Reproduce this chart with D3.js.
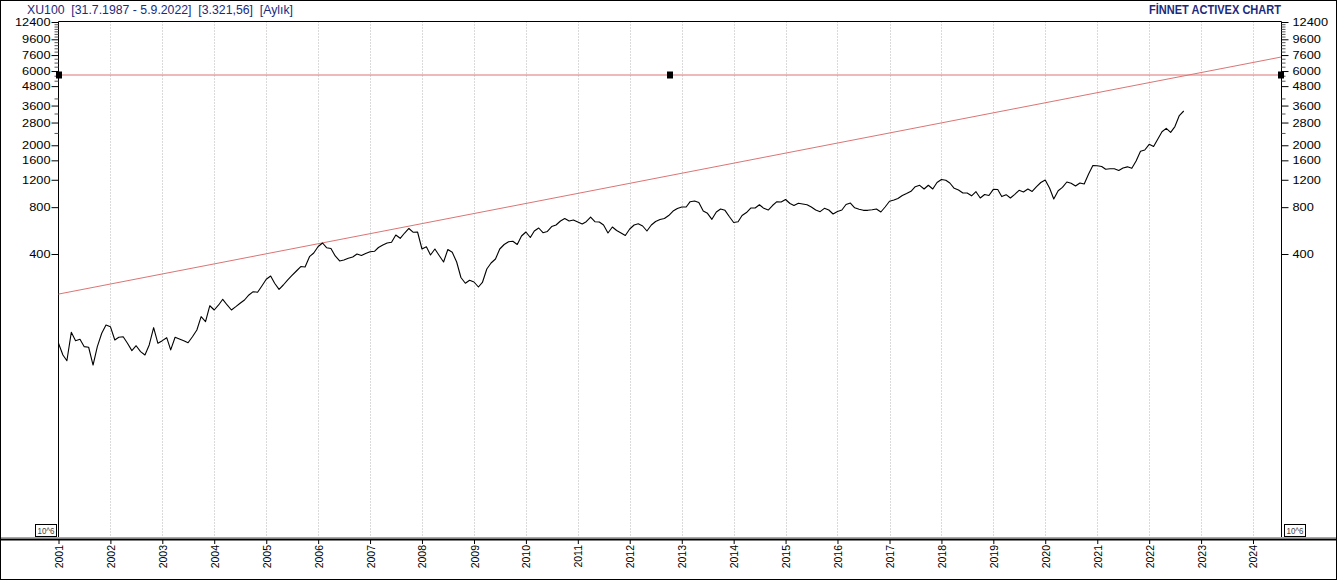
<!DOCTYPE html>
<html>
<head>
<meta charset="utf-8">
<script src="https://cdn.jsdelivr.net/npm/d3@7"></script>
<style>
  body { margin: 0; background: #fff; }
  svg { display: block; }
  text { font-family: "Liberation Sans", Arial, sans-serif; }
</style>
</head>
<body>
<div id="chart"></div>
<script>

// monthly XU100 closes, Jan 2001 .. Sep 2022
const START_YEAR = 2001;
const closes = [
  106.7, 89.7, 82.4, 125.5, 110.9, 113.2, 101.5, 100.6, 77.3, 101.5, 123.7, 139.8,    // 2001
  136.4, 112.0, 116.6, 117.6, 106.7, 95.7, 102.9, 94.3, 89.7, 104.1, 134.4, 106.7,    // 2002
  110.9, 115.9, 96.7, 116.6, 113.7, 110.9, 107.6, 117.6, 129.9, 158.2, 147.0, 186.0,  // 2003
  174.6, 188.1, 204.6, 188.1, 174.6, 183.4, 192.9, 202.5, 218.1, 229.0, 226.9, 249.1, // 2004
  275.1, 288.9, 259.3, 237.2, 252.8, 272.3, 291.0, 311.0, 332.3, 330.0, 384.3, 406.0, // 2005
  446.8, 470.7, 439.2, 434.0, 388.4, 360.7, 366.0, 375.4, 382.6, 400.0, 391.2, 403.0, // 2006
  414.0, 416.4, 440.4, 457.0, 470.7, 475.6, 529.9, 504.6, 545.8, 583.5, 551.5, 553.9, // 2007
  430.7, 445.6, 394.2, 430.7, 391.2, 355.4, 427.6, 410.2, 355.4, 282.5, 259.3, 271.0, // 2008
  264.3, 245.4, 262.4, 320.3, 350.1, 371.5, 430.7, 460.4, 479.1, 482.8, 460.4, 522.1, // 2009
  553.9, 510.6, 562.2, 587.8, 548.2, 558.2, 600.2, 614.4, 651.8, 676.5, 651.8, 661.5, // 2010
  642.2, 623.5, 645.3, 691.5, 645.3, 642.2, 614.4, 545.8, 596.4, 566.3, 545.8, 526.0, // 2011
  579.1, 614.4, 625.4, 605.4, 562.2, 614.4, 647.2, 666.5, 676.5, 707.1, 755.8, 784.6, // 2012
  802.0, 802.0, 867.6, 876.4, 857.1, 755.8, 730.5, 668.4, 744.7, 778.5, 763.5, 696.4, // 2013
  637.6, 645.3, 707.1, 739.2, 790.2, 790.2, 828.6, 786.6, 767.1, 819.9, 867.6, 863.4, // 2014
  896.1, 844.5, 819.9, 847.0, 838.3, 830.0, 802.0, 767.1, 748.3, 786.6, 767.1, 723.0, // 2015
  750.6, 767.1, 832.2, 850.8, 792.4, 775.1, 763.5, 763.5, 769.3, 778.5, 744.7, 802.0, // 2016
  873.5, 889.4, 909.6, 950.6, 979.2, 1011.7, 1082.8, 1105.2, 1046.6, 1107.1, 1046.6, 1152.3, // 2017
  1204.8, 1190.7, 1143.8, 1057.5, 1031.3, 986.5, 986.5, 946.4, 1005.9, 916.2, 964.9, 950.6,  // 2018
  1042.0, 1039.1, 935.6, 962.4, 916.2, 967.4, 1026.7, 1001.2, 1046.6, 1009.0, 1085.7, 1152.3, // 2019
  1195.7, 1059.5, 902.7, 1020.6, 1073.1, 1160.8, 1138.7, 1094.2, 1143.8, 1127.0, 1306.8, 1481.9, // 2020
  1476.7, 1459.7, 1400.9, 1411.3, 1411.3, 1375.9, 1428.2, 1453.2, 1421.8, 1584.0, 1828.9, 1864.1, // 2021
  2027.5, 1962.5, 2177.7, 2444.7, 2570.0, 2422.3, 2638.0, 3105.7, 3321.56                          // 2022
];

const yearLabels = [2001, 2002, 2003, 2004, 2005, 2006, 2007, 2008, 2009, 2010, 2011, 2012,
                    2013, 2014, 2015, 2016, 2017, 2018, 2019, 2020, 2021, 2022, 2023, 2024];
const yLabels = [12400, 9600, 7600, 6000, 4800, 3600, 2800, 2000, 1600, 1200, 800, 400];
const yMinor = [2400, 3200, 4000, 5200, 5600, 6400, 6800, 7200, 8000, 8400, 8800, 9200,
                10000, 10400, 10800, 11200, 11600, 12000];

// drawn lines: support trend line and horizontal level
const trendStart = {date: "2001-01-01", value: 221};
const trendEnd = {date: "2024-07-16", value: 7380};
const levelValue = 5660;

const titleText = "XU100  [31.7.1987 - 5.9.2022]  [3.321,56]  [Aylık]";
const brandText = "FİNNET ACTIVEX CHART";
const scaleBoxText = "10^6";

const FRAME_WIDTH = 1337;
const FRAME_HEIGHT = 580;
const PLOT = {left: 58.5, right: 1281.5, top: 21.5, bottom: 537};
const NAVY = "#1c2a7c";
const RED = "#dc7474";
const FONT = "'Liberation Sans', Arial, sans-serif";

const parse = d3.timeParse("%Y-%m-%d");

const svg = d3.select("#chart")
  .append("svg")
    .attr("width", FRAME_WIDTH)
    .attr("height", FRAME_HEIGHT);

const X_SCALE = d3.scaleTime()
  .domain([new Date(2001, 0, 1), new Date(2024, 6, 16)])
  .range([58.5, 1281]);

const Y_SCALE = d3.scaleLog()
  .domain([400, 12400])
  .range([254, 22]);

const series = closes.map((v, i) => ({
  date: d3.timeMonth.offset(new Date(START_YEAR, 0, 1), i),
  value: v
}));

// vertical dotted year grid
svg.append("g")
  .selectAll("line")
  .data(yearLabels.slice(1))
  .join("line")
    .attr("x1", d => Math.round(X_SCALE(new Date(d, 0, 1))) + 0.5)
    .attr("x2", d => Math.round(X_SCALE(new Date(d, 0, 1))) + 0.5)
    .attr("y1", PLOT.top)
    .attr("y2", PLOT.bottom)
    .attr("stroke", "#b4b4b4")
    .attr("stroke-dasharray", "1,2");

// frame of the plot
svg.append("path")
  .attr("d", `M${PLOT.left},${PLOT.bottom}V${PLOT.top}H${PLOT.right}V${PLOT.bottom}`)
  .attr("fill", "none")
  .attr("stroke", "#000");

// bottom strip
svg.append("line")
  .attr("x1", 0).attr("x2", FRAME_WIDTH)
  .attr("y1", 537.5).attr("y2", 537.5)
  .attr("stroke", "#a8a8a8");
svg.append("line")
  .attr("x1", 1).attr("x2", FRAME_WIDTH - 1)
  .attr("y1", 539.5).attr("y2", 539.5)
  .attr("stroke", "#000")
  .attr("stroke-width", 2);

// y axes
function styleLabels(g) {
  g.select(".domain").remove();
  g.attr("font-family", FONT);
  g.selectAll(".tick line").attr("stroke", "#000");
  g.selectAll(".tick text")
    .attr("font-size", 11)
    .attr("fill", "#000")
    .attr("textLength", d => String(d).length * 7.1)
    .attr("lengthAdjust", "spacingAndGlyphs");
}

svg.append("g")
  .attr("transform", `translate(${PLOT.left},0)`)
  .call(d3.axisLeft(Y_SCALE).tickValues(yMinor).tickSize(4).tickFormat(""))
  .call(g => { g.select(".domain").remove(); g.selectAll("line").attr("stroke", "#555"); });

svg.append("g")
  .attr("transform", `translate(${PLOT.left},0)`)
  .call(d3.axisLeft(Y_SCALE).tickValues(yLabels).tickSize(7).tickPadding(1).tickFormat(d3.format("d")))
  .call(styleLabels);

svg.append("g")
  .attr("transform", `translate(${PLOT.right},0)`)
  .call(d3.axisRight(Y_SCALE).tickValues(yMinor).tickSize(4).tickFormat(""))
  .call(g => { g.select(".domain").remove(); g.selectAll("line").attr("stroke", "#555"); });

svg.append("g")
  .attr("transform", `translate(${PLOT.right},0)`)
  .call(d3.axisRight(Y_SCALE).tickValues(yLabels).tickSize(7).tickPadding(4).tickFormat(d3.format("d")))
  .call(styleLabels);

// x axis, rotated year labels
svg.append("g")
  .attr("transform", "translate(0,540)")
  .call(d3.axisBottom(X_SCALE)
    .tickValues(yearLabels.map(y => new Date(y, 0, 1)))
    .tickSize(4)
    .tickFormat(d3.timeFormat("%Y")))
  .call(g => {
    g.select(".domain").remove();
    g.attr("font-family", FONT);
    g.selectAll(".tick line").attr("stroke", "#000");
    g.selectAll(".tick text")
      .attr("font-size", 10.5)
      .attr("fill", "#000")
      .attr("transform", "rotate(-90)")
      .attr("text-anchor", "end")
      .attr("x", -5)
      .attr("y", 4)
      .attr("dy", 0);
  });

// trend line
svg.append("line")
  .attr("x1", X_SCALE(parse(trendStart.date)))
  .attr("y1", Y_SCALE(trendStart.value))
  .attr("x2", X_SCALE(parse(trendEnd.date)))
  .attr("y2", Y_SCALE(trendEnd.value))
  .style("stroke", RED);

// horizontal level with its handles
const levelX = [X_SCALE(parse(trendStart.date)), X_SCALE(parse(trendEnd.date))];
const levelY = Y_SCALE(levelValue);
svg.append("path")
  .attr("d", `M${levelX[0]},${levelY}H${levelX[1]}`)
  .attr("fill", "none")
  .style("stroke", RED)
  .style("stroke-width", 1.2);

svg.selectAll(".handle")
  .data([levelX[0], (levelX[0] + levelX[1]) / 2, levelX[1]])
  .join("rect")
    .attr("class", "handle")
    .attr("x", d => Math.round(d) - 3)
    .attr("y", Math.round(levelY) - 3.5)
    .attr("width", 6)
    .attr("height", 7)
    .attr("fill", "#000");

// price line
const line = d3.line()
  .x(d => X_SCALE(d.date))
  .y(d => Y_SCALE(d.value));

svg.append("path")
  .datum(series)
  .attr("d", line)
  .attr("fill", "none")
  .attr("stroke", "#000")
  .attr("stroke-width", 1.1)
  .attr("stroke-linejoin", "round");

// scale boxes in the bottom corners
[35, 1284].forEach(bx => {
  svg.append("rect")
    .attr("x", bx + 0.5).attr("y", 524.5)
    .attr("width", 21).attr("height", 12)
    .attr("fill", "#fff")
    .attr("stroke", "#000");
  svg.append("text")
    .attr("x", bx + 11).attr("y", 534)
    .attr("text-anchor", "middle")
    .attr("font-size", 9.5)
    .attr("fill", "#444")
    .attr("textLength", 17)
    .attr("lengthAdjust", "spacingAndGlyphs")
    .text(scaleBoxText);
});

// header
svg.append("text")
  .attr("x", 27).attr("y", 13.5)
  .attr("font-size", 12.5)
  .attr("fill", NAVY)
  .attr("textLength", 266)
  .attr("lengthAdjust", "spacingAndGlyphs")
  .style("white-space", "pre")
  .text(titleText);

svg.append("text")
  .attr("x", 1281).attr("y", 13.5)
  .attr("text-anchor", "end")
  .attr("font-size", 12)
  .attr("font-weight", "bold")
  .attr("fill", NAVY)
  .attr("textLength", 132)
  .attr("lengthAdjust", "spacingAndGlyphs")
  .text(brandText);

// outer border
svg.append("rect")
  .attr("x", 0.5).attr("y", 0.5)
  .attr("width", FRAME_WIDTH - 1).attr("height", FRAME_HEIGHT - 1)
  .attr("fill", "none")
  .attr("stroke", "#000");

</script>
</body>
</html>
